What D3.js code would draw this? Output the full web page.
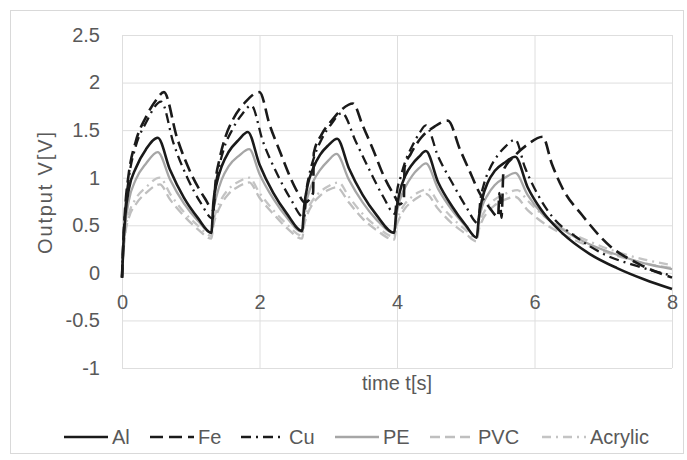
<!DOCTYPE html>
<html>
<head>
<meta charset="utf-8">
<script src="https://cdn.jsdelivr.net/npm/d3@7"></script>
<style>
  body { margin: 0; background: #fff; }
  text { font-family: "Liberation Sans", Arial, sans-serif; fill: #595959; }
</style>
</head>
<body>
<div id="chart"></div>
<script>
// readings: [time s, output V]
var al = [[0,-0.05],[0.02,0.3],[0.05,0.62],[0.1,0.88],[0.2,1.1],[0.35,1.3],[0.52,1.42],
  [0.7,1.08],[0.9,0.79],[1.1,0.58],[1.3,0.42],
  [1.33,0.75],[1.38,0.95],[1.45,1.12],[1.55,1.27],[1.7,1.4],[1.83,1.48],
  [2.0,1.14],[2.2,0.84],[2.4,0.62],[2.62,0.44],
  [2.65,0.7],[2.7,0.92],[2.78,1.1],[2.88,1.24],[3.0,1.34],[3.13,1.41],
  [3.3,1.1],[3.5,0.82],[3.7,0.61],[3.96,0.42],
  [3.99,0.65],[4.04,0.85],[4.12,1.02],[4.22,1.14],[4.32,1.22],[4.42,1.28],
  [4.6,0.95],[4.8,0.7],[5.0,0.5],[5.16,0.37],
  [5.19,0.58],[5.24,0.78],[5.32,0.95],[5.42,1.07],[5.57,1.16],[5.72,1.22],
  [5.9,0.9],[6.1,0.66],[6.4,0.42],[6.8,0.2],[7.2,0.05],[7.6,-0.07],[8,-0.17]];

var fe = [[0,-0.05],[0.02,0.35],[0.05,0.72],[0.1,1.05],[0.2,1.38],[0.35,1.64],[0.5,1.82],[0.61,1.9],
  [0.8,1.42],[1.0,1.05],[1.2,0.79],[1.33,0.66],
  [1.36,0.95],[1.42,1.2],[1.5,1.42],[1.62,1.62],[1.8,1.8],[2.0,1.9],
  [2.15,1.55],[2.3,1.27],[2.45,1.0],[2.56,0.84],[2.66,0.74],
  [2.78,0.84],[2.79,1.26],[2.9,1.45],[3.05,1.6],[3.2,1.72],[3.36,1.78],
  [3.5,1.55],[3.65,1.3],[3.8,1.03],[3.97,0.8],[4.04,0.72],
  [4.1,0.77],[4.11,1.11],[4.2,1.25],[4.35,1.42],[4.55,1.54],[4.74,1.6],
  [4.92,1.29],[5.05,1.08],[5.2,0.84],[5.35,0.68],[5.47,0.59],
  [5.49,0.84],[5.52,0.58],[5.55,1.08],[5.7,1.22],[5.9,1.35],[6.12,1.43],
  [6.25,1.15],[6.4,0.9],[6.7,0.6],[7.1,0.28],[7.5,0.1],[8,-0.05]];

var cu = [[0,-0.05],[0.02,0.33],[0.05,0.68],[0.1,1.0],[0.2,1.33],[0.35,1.58],[0.57,1.8],
  [0.75,1.36],[0.95,1.0],[1.15,0.73],[1.32,0.57],
  [1.35,0.85],[1.4,1.07],[1.48,1.3],[1.6,1.5],[1.75,1.67],[1.88,1.76],
  [2.05,1.38],[2.25,1.05],[2.45,0.78],[2.65,0.58],
  [2.68,0.85],[2.73,1.05],[2.8,1.23],[2.9,1.4],[3.05,1.57],[3.2,1.68],
  [3.4,1.38],[3.6,1.08],[3.8,0.8],[3.97,0.62],
  [4.0,0.85],[4.05,1.0],[4.12,1.17],[4.22,1.33],[4.32,1.46],[4.42,1.55],
  [4.6,1.22],[4.8,0.95],[5.0,0.7],[5.18,0.52],
  [5.21,0.75],[5.26,0.92],[5.34,1.08],[5.45,1.22],[5.58,1.33],[5.72,1.4],
  [5.86,1.11],[6.05,0.82],[6.27,0.58],[6.6,0.38],[7.0,0.2],[7.5,0.07],[8,-0.03]];

var pe = [[0,-0.03],[0.02,0.25],[0.05,0.52],[0.1,0.76],[0.2,0.98],[0.35,1.15],[0.52,1.27],
  [0.7,0.98],[0.9,0.73],[1.1,0.55],[1.3,0.42],
  [1.33,0.65],[1.38,0.82],[1.45,0.98],[1.55,1.12],[1.7,1.23],[1.85,1.3],
  [2.0,1.04],[2.2,0.78],[2.4,0.58],[2.62,0.43],
  [2.65,0.62],[2.7,0.8],[2.78,0.96],[2.88,1.08],[3.0,1.18],[3.12,1.25],
  [3.3,0.98],[3.5,0.74],[3.7,0.56],[3.96,0.42],
  [3.99,0.6],[4.04,0.76],[4.12,0.9],[4.22,1.02],[4.32,1.1],[4.42,1.15],
  [4.6,0.88],[4.8,0.66],[5.0,0.49],[5.16,0.37],
  [5.19,0.55],[5.24,0.7],[5.32,0.82],[5.42,0.92],[5.57,1.0],[5.72,1.05],
  [5.9,0.82],[6.1,0.63],[6.4,0.46],[6.8,0.3],[7.2,0.19],[7.6,0.1],[8,0.04]];

var pvc = [[0,-0.05],[0.02,0.2],[0.05,0.42],[0.1,0.58],[0.2,0.72],[0.35,0.84],[0.55,0.93],
  [0.7,0.77],[0.9,0.6],[1.1,0.46],[1.3,0.36],
  [1.33,0.5],[1.38,0.62],[1.45,0.73],[1.55,0.83],[1.7,0.91],[1.85,0.95],
  [2.0,0.79],[2.2,0.62],[2.4,0.47],[2.62,0.36],
  [2.65,0.5],[2.7,0.62],[2.78,0.73],[2.88,0.81],[3.0,0.87],[3.12,0.9],
  [3.3,0.74],[3.5,0.57],[3.7,0.45],[3.96,0.35],
  [3.99,0.48],[4.04,0.58],[4.12,0.68],[4.22,0.75],[4.32,0.8],[4.42,0.83],
  [4.6,0.67],[4.8,0.52],[5.0,0.41],[5.16,0.33],
  [5.19,0.45],[5.24,0.55],[5.32,0.64],[5.42,0.71],[5.57,0.77],[5.72,0.8],
  [5.9,0.66],[6.1,0.54],[6.4,0.41],[6.8,0.28],[7.2,0.18],[7.6,0.1],[8,0.05]];

var acrylic = [[0,-0.05],[0.02,0.22],[0.05,0.45],[0.1,0.62],[0.2,0.78],[0.35,0.9],[0.55,1.0],
  [0.7,0.83],[0.9,0.64],[1.1,0.5],[1.3,0.39],
  [1.33,0.54],[1.38,0.67],[1.45,0.78],[1.55,0.88],[1.7,0.96],[1.85,1.0],
  [2.0,0.84],[2.2,0.66],[2.4,0.51],[2.62,0.39],
  [2.65,0.54],[2.7,0.66],[2.78,0.77],[2.88,0.85],[3.0,0.91],[3.15,0.95],
  [3.3,0.8],[3.5,0.62],[3.7,0.49],[3.96,0.38],
  [3.99,0.52],[4.04,0.63],[4.12,0.73],[4.22,0.8],[4.32,0.85],[4.45,0.88],
  [4.6,0.74],[4.8,0.58],[5.0,0.45],[5.16,0.36],
  [5.19,0.5],[5.24,0.6],[5.32,0.7],[5.42,0.77],[5.57,0.83],[5.75,0.87],
  [5.9,0.76],[6.1,0.62],[6.4,0.47],[6.8,0.33],[7.2,0.22],[7.6,0.14],[8,0.08]];

var seriesNames = ["Al", "Fe", "Cu", "PE", "PVC", "Acrylic"];
var seriesData = [al, fe, cu, pe, pvc, acrylic];

var xTicks = [0, 2, 4, 6, 8];
var yTicks = [-1, -0.5, 0, 0.5, 1, 1.5, 2, 2.5];
var yTickLabels = ["-1", "-0.5", "0", "0.5", "1", "1.5", "2", "2.5"];

// look of each series
var styles = {
  "Al":      { color: "#1a1a1a", width: 2.6, dash: null },
  "Fe":      { color: "#1a1a1a", width: 2.6, dash: "13,6" },
  "Cu":      { color: "#1a1a1a", width: 2.3, dash: "10,5,2,5" },
  "PE":      { color: "#a6a6a6", width: 2.3, dash: null },
  "PVC":     { color: "#bfbfbf", width: 2.3, dash: "10,5" },
  "Acrylic": { color: "#c4c4c4", width: 2.3, dash: "9,5,2,5" }
};

var W = 687, H = 460;
var svg = d3.select("#chart").append("svg")
  .attr("width", W)
  .attr("height", H);

svg.append("rect")
  .attr("x", 10.5).attr("y", 10.5)
  .attr("width", 673).attr("height", 443)
  .attr("fill", "#fff")
  .attr("stroke", "#d9d9d9");

var x = d3.scaleLinear().domain([0, 8]).range([122, 672]);
var y = d3.scaleLinear().domain([-1, 2.5]).range([368, 35]);

// grid
svg.append("g")
  .attr("transform", "translate(122,0)")
  .call(d3.axisLeft(y).tickValues(yTicks).tickSize(-(672 - 122)).tickFormat(""))
  .call(g => g.select(".domain").remove())
  .call(g => g.selectAll("line").attr("stroke", "#dedede"));

svg.append("g")
  .attr("transform", "translate(0,368)")
  .call(d3.axisBottom(x).tickValues(xTicks).tickSize(-(368 - 35)).tickFormat(""))
  .call(g => g.select(".domain").remove())
  .call(g => g.selectAll("line").attr("stroke", "#dedede"));

// tick labels
svg.append("g")
  .attr("transform", "translate(122,0)")
  .call(d3.axisLeft(y).tickValues(yTicks).tickSize(0).tickPadding(22)
    .tickFormat((d, i) => yTickLabels[i]))
  .call(g => g.select(".domain").remove())
  .call(g => g.selectAll("text").attr("font-size", 20).style("fill", "#595959"));

svg.append("g")
  .attr("transform", "translate(0," + y(0) + ")")
  .call(d3.axisBottom(x).tickValues(xTicks).tickSize(0).tickPadding(22).tickFormat(d3.format("d")))
  .call(g => g.select(".domain").remove())
  .call(g => g.selectAll("text").attr("font-size", 20).style("fill", "#595959"));

// axis titles
svg.append("text")
  .attr("x", 397).attr("y", 390)
  .attr("text-anchor", "middle")
  .attr("font-size", 20)
  .text("time t[s]");

svg.append("text")
  .attr("transform", "translate(52,193) rotate(-90)")
  .attr("text-anchor", "middle")
  .attr("font-size", 20)
  .attr("textLength", 122)
  .attr("lengthAdjust", "spacing")
  .text("Output V[V]");

// lines
var line = d3.line()
  .x(d => x(d[0]))
  .y(d => y(d[1]))
  .curve(d3.curveMonotoneX);

var drawOrder = [5, 4, 3, 2, 1, 0];
drawOrder.forEach(function (i) {
  var st = styles[seriesNames[i]];
  svg.append("path")
    .datum(seriesData[i])
    .attr("fill", "none")
    .attr("stroke", st.color)
    .attr("stroke-width", st.width)
    .attr("stroke-dasharray", st.dash)
    .attr("stroke-linejoin", "round")
    .attr("d", line);
});

// legend
var legendX = [64, 150, 241, 335, 430, 542];
var legend = svg.append("g");
seriesNames.forEach(function (name, i) {
  var st = styles[name];
  legend.append("line")
    .attr("x1", legendX[i]).attr("x2", legendX[i] + 44)
    .attr("y1", 437).attr("y2", 437)
    .attr("stroke", st.color)
    .attr("stroke-width", st.width)
    .attr("stroke-dasharray", st.dash);
  legend.append("text")
    .attr("x", legendX[i] + 48)
    .attr("y", 444)
    .attr("font-size", 20)
    .text(name);
});
</script>
</body>
</html>
